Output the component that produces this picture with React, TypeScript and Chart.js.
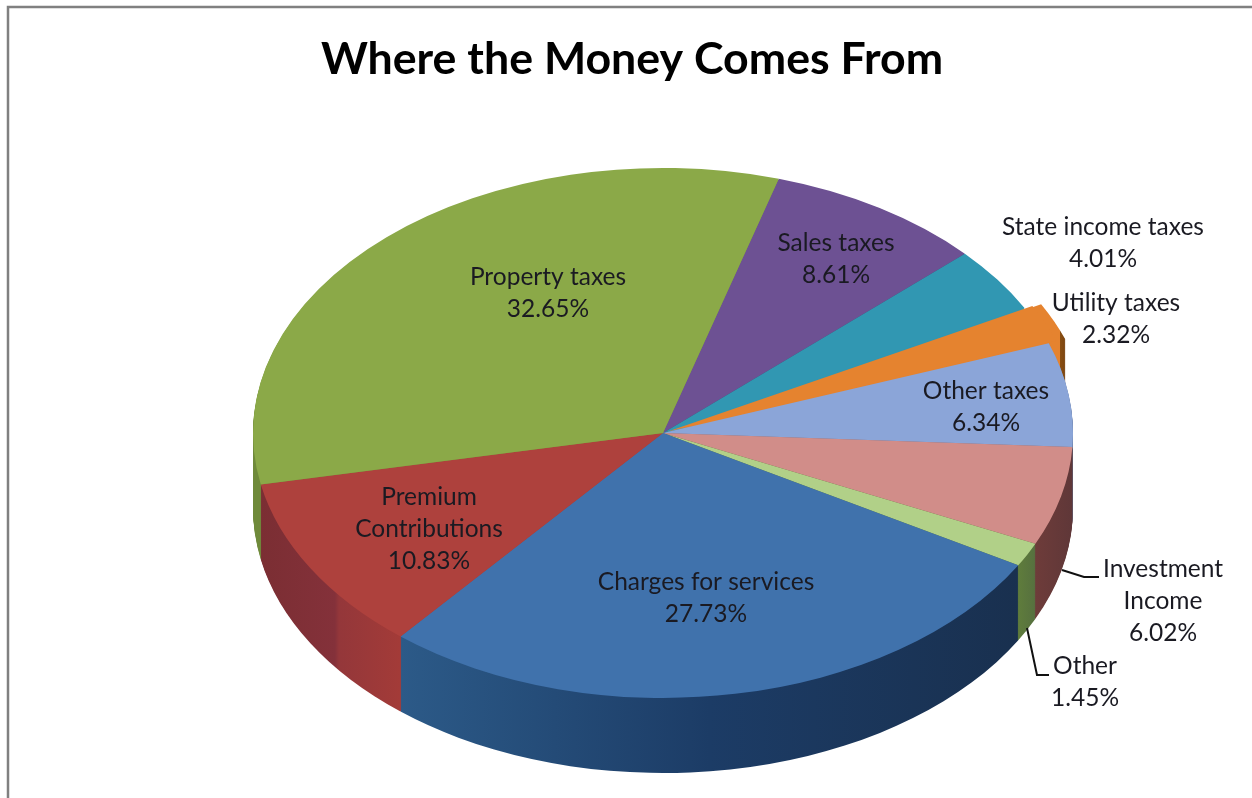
import React, { useEffect, useRef } from "react";
import { Chart, registerables } from "chart.js";

Chart.register(...registerables);

const titleText = "Where the Money Comes From";
const categories = [
  "Sales taxes",
  "State income taxes",
  "Utility taxes",
  "Other taxes",
  "Investment\nIncome",
  "Other",
  "Charges for services",
  "Premium\nContributions",
  "Property taxes",
];
const shares = [8.61, 4.01, 2.32, 6.34, 6.02, 1.45, 27.73, 10.83, 32.65];
const explodedSlice = "Utility taxes";

const topColors = ["#6d5193", "#3197b2", "#e5832f", "#8ba5d8", "#d18d89", "#b1d088", "#4072ac", "#ae413d", "#8ba948"];
// Horizontal shading of each slice's side wall, left to right: [position, colour]
const wallStops: [number, string][][] = [
  [[0, "#4d3a68"], [1, "#4d3a68"]],
  [[0, "#3197b2"], [1, "#3197b2"]],
  [[0, "#e5832f"], [0.78, "#e5832f"], [0.78, "#8a4e12"], [1, "#7a4410"]],
  [[0, "#5f7296"], [1, "#5f7296"]],
  [[0, "#6e3c3a"], [1, "#5f3738"]],
  [[0, "#5f7c3c"], [1, "#56703f"]],
  [[0, "#2c5a88"], [0.5, "#1c3c66"], [1, "#19304f"]],
  [[0, "#7b2e33"], [0.53, "#84313a"], [0.56, "#94373a"], [1, "#a33b38"]],
  [[0, "#6f8a3a"], [1, "#7b9a42"]],
];

// Screen layout of the flattened, extruded pie
const CX = 663;
const CY = 433;
const RX = 410;
const RY = 265;
const DEPTH = 75;

// Manual label placement as in the source (centre x, centre y of first line)
const labelAnchors: [number, number][] = [
  [836, 243], [1103, 227], [1116, 303], [986, 391], [1163, 569], [1085, 666], [706, 582], [429, 497], [548, 277],
];
const LINE_H = 32;
const leaders: [number, number][][] = [
  [[1062, 570], [1084, 577], [1099, 577]],
  [[1027, 628], [1037, 675], [1049, 675]],
];

const pie3d = {
  id: "pie3d",
  beforeDraw(chart: any) {
    const { ctx } = chart;
    ctx.save();
    ctx.fillStyle = "#ffffff";
    ctx.fillRect(0, 0, chart.width, chart.height);
    ctx.strokeStyle = "#808080";
    ctx.lineWidth = 2.5;
    ctx.strokeRect(8, 7, 1300, 900);
    ctx.restore();
  },
  beforeDatasetsDraw(chart: any) {
    const { ctx } = chart;
    const arcs = chart.getDatasetMeta(0).data;
    const a0 = arcs[0];
    const kx = RX / a0.outerRadius;
    const ky = RY / a0.outerRadius;
    const apply = (shift: number) => {
      ctx.translate(CX, CY + shift);
      ctx.scale(kx, ky);
      ctx.translate(-a0.x, -a0.y);
    };
    for (let k = DEPTH; k >= 1; k--) {
      ctx.save();
      apply(k);
      arcs.forEach((arc: any, i: number) => {
        const mid = (arc.startAngle + arc.endAngle) / 2;
        const off = arc.options.offset || 0;
        const x = arc.x + Math.cos(mid) * off;
        const y = arc.y + Math.sin(mid) * off;
        const xa = x + Math.cos(arc.startAngle) * arc.outerRadius;
        const xb = x + Math.cos(arc.endAngle) * arc.outerRadius;
        const g = ctx.createLinearGradient(Math.min(xa, xb), 0, Math.max(xa, xb), 0);
        wallStops[i].forEach(([p, c]) => g.addColorStop(p, c));
        ctx.fillStyle = g;
        ctx.beginPath();
        ctx.moveTo(x, y);
        ctx.arc(x, y, arc.outerRadius, arc.startAngle, arc.endAngle);
        ctx.closePath();
        ctx.fill();
      });
      ctx.restore();
    }
    ctx.save();
    apply(0);
  },
  afterDatasetsDraw(chart: any) {
    const { ctx } = chart;
    ctx.restore();
    ctx.save();
    ctx.font = "24.5px Lato, Carlito, sans-serif";
    ctx.textAlign = "center";
    ctx.textBaseline = "middle";
    ctx.fillStyle = "#1a1a22";
    categories.forEach((name, i) => {
      const lines = [...name.split("\n"), shares[i].toFixed(2) + "%"];
      const [x, y] = labelAnchors[i];
      lines.forEach((t, j) => ctx.fillText(t, x, y + j * LINE_H));
    });
    ctx.strokeStyle = "#111111";
    ctx.lineWidth = 2;
    leaders.forEach((pts) => {
      ctx.beginPath();
      pts.forEach(([x, y], j) => (j ? ctx.lineTo(x, y) : ctx.moveTo(x, y)));
      ctx.stroke();
    });
    ctx.restore();
  },
};

export default function App() {
  const ref = useRef<HTMLCanvasElement>(null);
  useEffect(() => {
    const chart = new Chart(ref.current!, {
      type: "pie",
      data: {
        labels: categories.map((c) => c.replace("\n", " ")),
        datasets: [
          {
            data: shares,
            backgroundColor: topColors,
            borderWidth: 0,
            offset: categories.map((c) => (c === explodedSlice ? 15 : 0)),
            clip: false,
          } as any,
        ],
      },
      options: {
        responsive: false,
        animation: false,
        rotation: 16.4,
        layout: { padding: { left: 12, top: 33, bottom: 10 } },
        plugins: {
          legend: { display: false },
          tooltip: { enabled: false },
          title: {
            display: true,
            text: titleText,
            color: "#000000",
            font: { family: "Lato, Carlito, sans-serif", size: 44.7, weight: "bold" },
            padding: { top: 0, bottom: 10 },
          },
        },
      },
      plugins: [pie3d],
    } as any);
    return () => chart.destroy();
  }, []);
  return (
    <div style={{ position: "absolute", left: 0, top: 0, width: 1252, height: 798, overflow: "hidden" }}>
      <canvas ref={ref} width={1252} height={798} style={{ display: "block" }} />
    </div>
  );
}
